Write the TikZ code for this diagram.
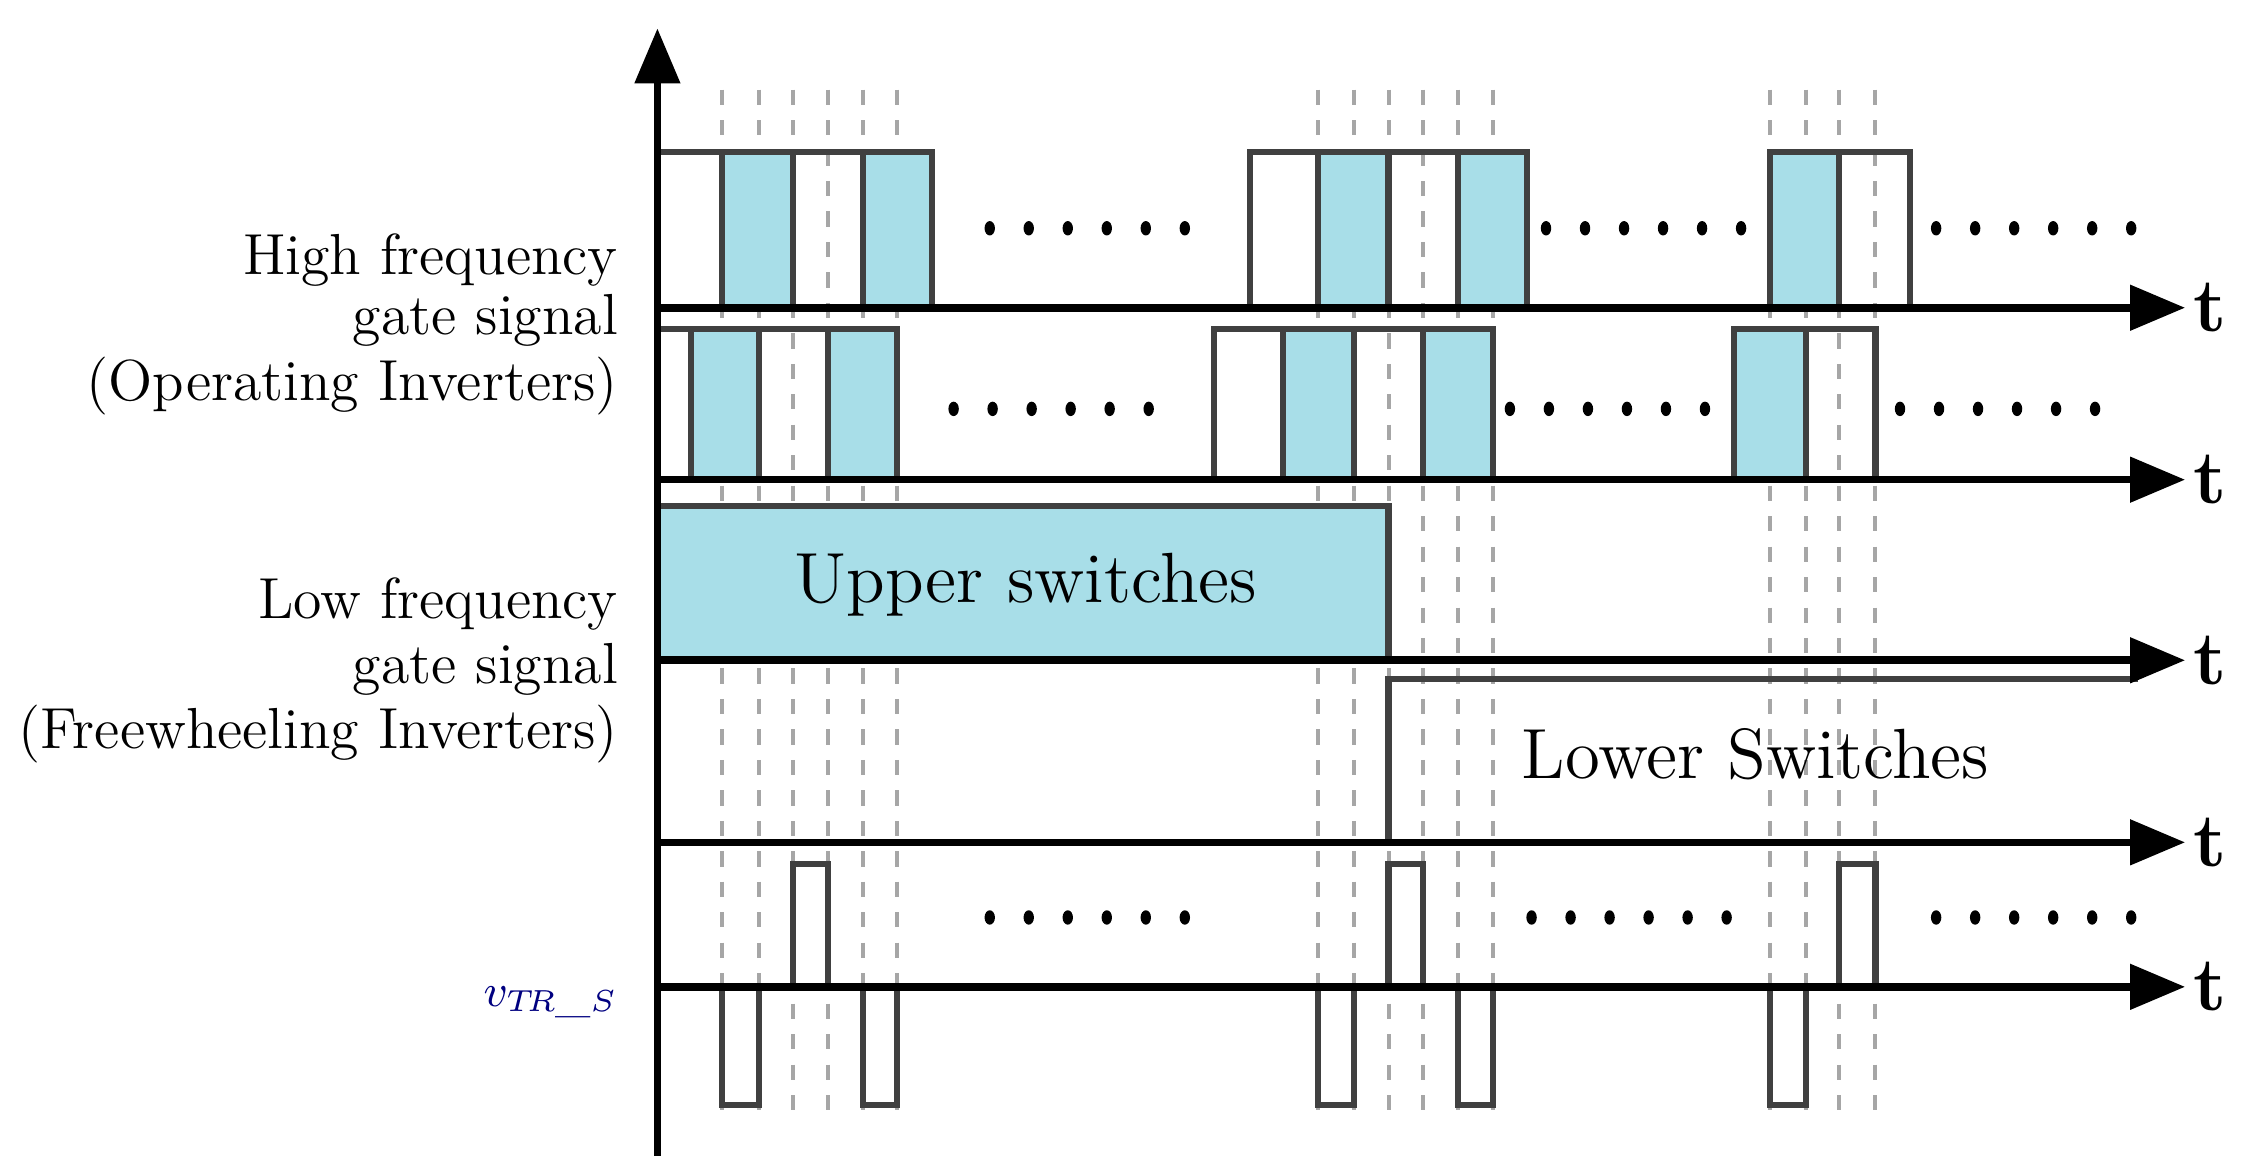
\documentclass[tikz,border=0pt]{standalone}
\usetikzlibrary{arrows}
\definecolor{pulse}{RGB}{168,222,232}
\tikzset{sig/.style={draw=black!75,line width=1.2pt},
  hi/.style={sig,fill=pulse},
  guide/.style={gray!70,dashed,line width=0.8pt},
  lbl/.style={anchor=east,font=\fontsize{11.4}{13}\selectfont}}
\begin{document}
\begin{tikzpicture}[x=0.1mm,y=-0.1mm]
		\useasboundingbox (0,0) rectangle (1560,806);
		% guide lines
		\foreach \x in {500,525,549,573,597,621,912,937,961,985,1009,1033,1225,1250,1273,1298}
			\draw[guide] (\x,62) -- (\x,770);
		% first row
		\draw[sig] (455,213) rectangle (500,105);
		\draw[hi] (500,213) rectangle (549,105);
		\draw[sig] (549,213) rectangle (597,105);
		\draw[hi] (597,213) rectangle (645,105);
		\draw[sig] (865,213) rectangle (912,105);
		\draw[hi] (912,213) rectangle (961,105);
		\draw[sig] (961,213) rectangle (1009,105);
		\draw[hi] (1009,213) rectangle (1057,105);
		\draw[hi] (1225,213) rectangle (1273,105);
		\draw[sig] (1273,213) rectangle (1322,105);
		% second row
		\draw[sig] (455,332) rectangle (478,228);
		\draw[hi] (478,332) rectangle (525,228);
		\draw[sig] (525,332) rectangle (573,228);
		\draw[hi] (573,332) rectangle (621,228);
		\draw[sig] (840,332) rectangle (888,228);
		\draw[hi] (888,332) rectangle (937,228);
		\draw[sig] (937,332) rectangle (985,228);
		\draw[hi] (985,332) rectangle (1033,228);
		\draw[hi] (1200,332) rectangle (1250,228);
		\draw[sig] (1250,332) rectangle (1298,228);
		% low frequency rows
		\draw[hi] (455,457) rectangle (961,350);
		\node (up) at (710,405) {\fontsize{14}{16}\selectfont Upper switches};
		\draw[sig] (961,583) -- (961,470) -- (1480,470);
		\node (low) at (1215,522) {\fontsize{14}{16}\selectfont Lower Switches};
		% transformer voltage
		\foreach \a/\b in {549/573,961/985,1273/1298}
			\draw[sig] (\a,683) -- (\a,598) -- (\b,598) -- (\b,683);
		\foreach \a/\b in {500/525,597/621,912/937,1009/1033,1225/1250}
			\draw[sig] (\a,683) -- (\a,765) -- (\b,765) -- (\b,683);
		% dots
		\foreach \s/\y in {685/158,1070/158,1340/158,660/283,1045/283,1315/283,685/635,1060/635,1340/635}
			\foreach \i in {0,...,5}
				\fill (\s+\i*27,\y) ellipse (3.6 and 5);
		% axes
		\draw[line width=1.5pt,-triangle 45] (455,800) -- (455,20);
		\foreach \y in {213,332,457,583,683}{
			\draw[line width=1.5pt,-triangle 45] (455,\y) -- (1512,\y);
			\node[font=\fontsize{15}{17}\selectfont\bfseries] at (1530,\y) {t};
		}
		% labels
		\node[lbl] (hf1) at (440,180) {High frequency};
		\node[lbl] (hf2) at (440,222) {gate signal};
		\node[lbl] (hf3) at (440,267) {(Operating Inverters)};
		\node[lbl] (lf1) at (440,418) {Low frequency};
		\node[lbl] (lf2) at (440,463) {gate signal};
		\node[lbl] (lf3) at (440,508) {(Freewheeling Inverters)};
		\node[anchor=east,text=blue!50!black,font=\small] (v) at (440,694) {$v_{T\!R\_S}$};
	\end{tikzpicture}
\end{document}
